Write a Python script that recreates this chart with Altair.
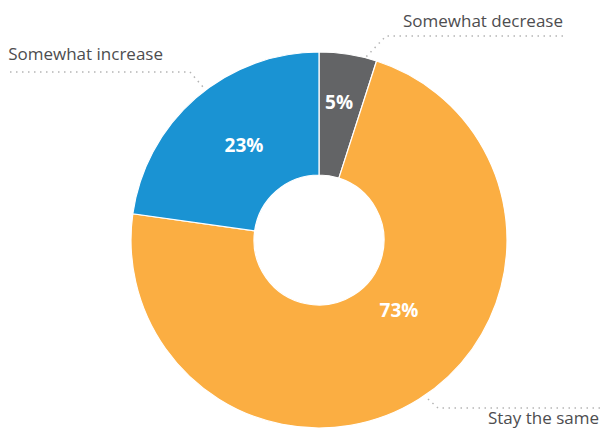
import altair as alt
import pandas as pd

categories = ["Somewhat decrease", "Stay the same", "Somewhat increase"]
values = [5, 73, 23]
colors = ["#636466", "#FBAE42", "#1A93D3"]
pct_labels = ["5%", "73%", "23%"]

df = pd.DataFrame({"cat": categories, "val": values, "order": [0, 1, 2]})

# annotation layout (pixel positions in chart space)
OFF = 8
pct_df = pd.DataFrame({
    "t": pct_labels,
    "x": [339 - OFF, 399 - OFF, 244 - OFF],
    "y": [103 - OFF, 311 - OFF, 146 - OFF],
})
lab_df = pd.DataFrame({
    "t": categories,
    "x": [563 - OFF, 599 - OFF, 163 - OFF],
    "y": [27 - OFF, 424 - OFF, 60 - OFF],
})
lead_rows = []
leaders = {
    "Somewhat decrease": [(563, 36), (386, 36), (366, 57)],
    "Stay the same": [(600, 408), (438, 408), (428, 399)],
    "Somewhat increase": [(10, 72), (190, 72), (203, 87)],
}
for k, pts in leaders.items():
    for i, (px, py) in enumerate(pts):
        lead_rows.append({"cat": k, "i": i, "x": px - OFF, "y": py - OFF})
lead_df = pd.DataFrame(lead_rows)

arc = alt.Chart(df).mark_arc(outerRadius=188, innerRadius=65, stroke="white", strokeWidth=1.2).encode(
    theta=alt.Theta("val:Q", stack=True),
    order=alt.Order("order:Q"),
    color=alt.Color("cat:N", scale=alt.Scale(domain=categories, range=colors), legend=None),
    x=alt.value(319 - OFF),
    y=alt.value(240 - OFF),
)

pct = alt.Chart(pct_df).mark_text(font="Open Sans", fontWeight="bold", fontSize=19, color="white",
                                   align="center", baseline="middle").encode(
    x=alt.X("x:Q", scale=None), y=alt.Y("y:Q", scale=None), text="t:N")

labels = alt.Chart(lab_df).mark_text(font="Open Sans", fontSize=17, color="#4d4d4f",
                                     align="right", baseline="alphabetic").encode(
    x=alt.X("x:Q", scale=None), y=alt.Y("y:Q", scale=None), text="t:N")

lines = alt.Chart(lead_df).mark_line(stroke="#b5b5b5", strokeWidth=1.5, strokeDash=[1.5, 4.5]).encode(
    x=alt.X("x:Q", scale=None), y=alt.Y("y:Q", scale=None), detail="cat:N", order="i:Q")

chart = alt.layer(arc, lines, pct, labels).properties(
    width=592, height=420, autosize=alt.AutoSizeParams(type="none"), padding=0
).configure_view(stroke=None)

chart.save("out.html", embed_options={"renderer": "svg", "actions": False})
